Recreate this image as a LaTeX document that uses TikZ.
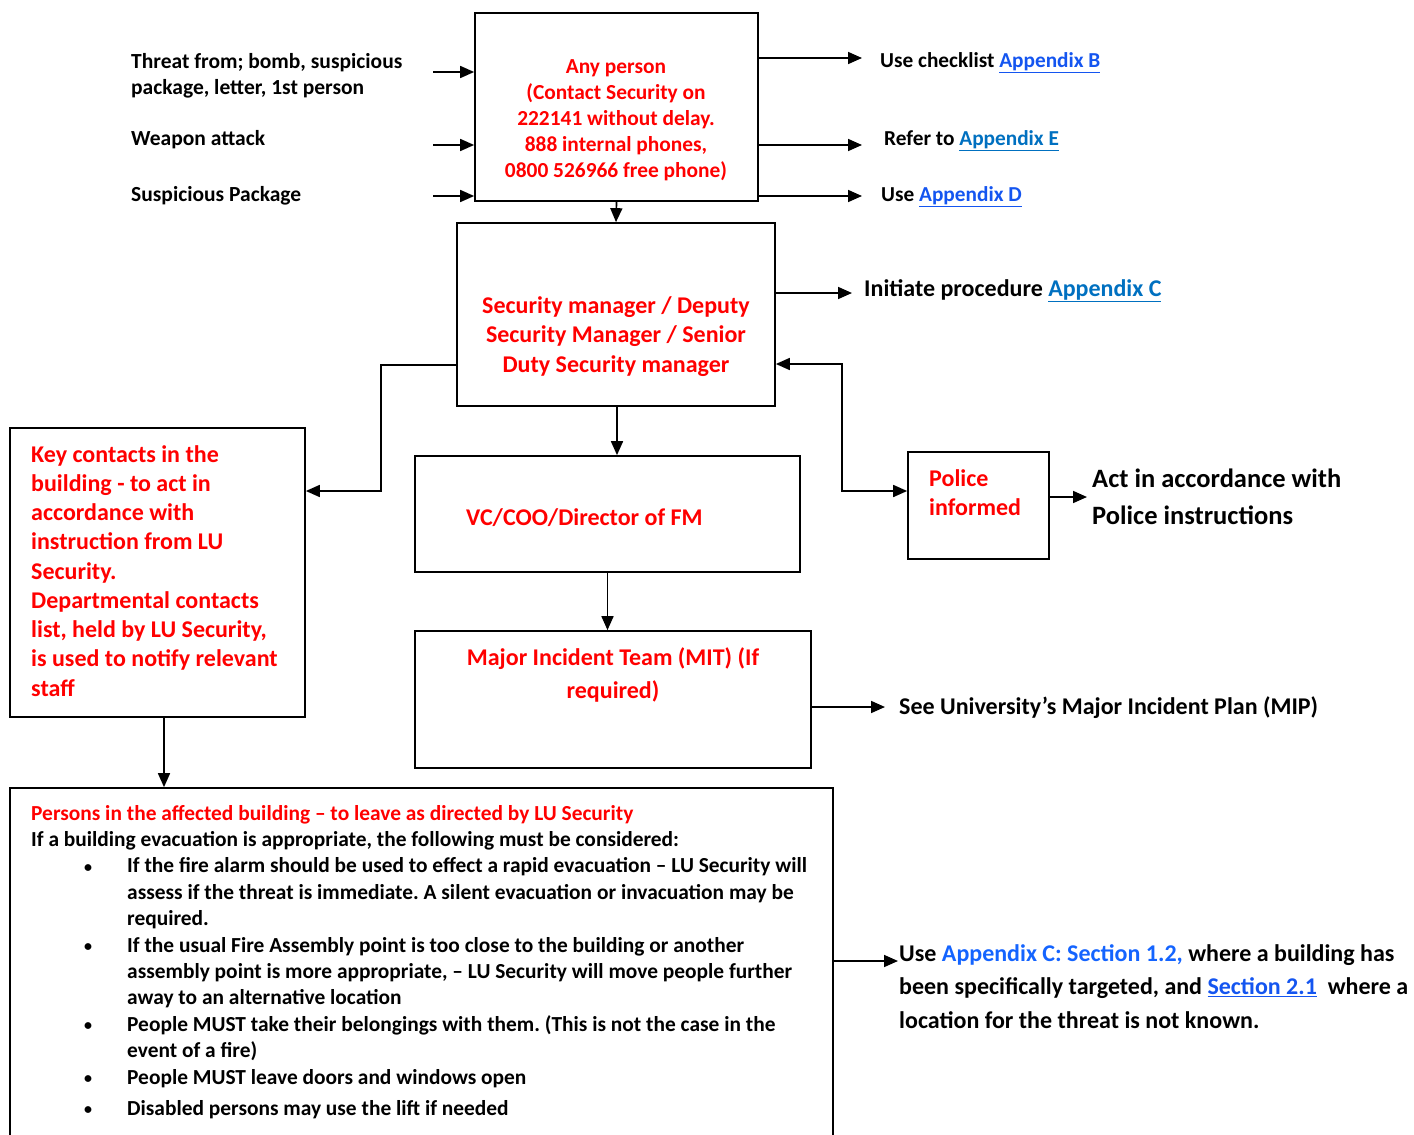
\documentclass[tikz,border=0pt]{standalone}
\usepackage{fontspec}
\setmainfont{Carlito}
\usetikzlibrary{arrows.meta}
\frenchspacing
\definecolor{txtred}{RGB}{255,0,0}
\definecolor{lnkA}{RGB}{20,85,240}
\definecolor{lnkE}{RGB}{0,112,192}
\definecolor{lnkC}{RGB}{20,100,255}
\newcommand\fsz[2]{\fontsize{#1}{#2}\selectfont}
\newcommand\lnk[2]{\textcolor{#1}{\underline{#2}}}
\newcommand\blt{\hspace*{53pt}\makebox[43pt][l]{\raisebox{0.5pt}{\fontsize{16}{16}\selectfont\textbullet}}}
\newcommand\ind{\hspace*{96pt}}
\begin{document}
\begin{tikzpicture}[x=1pt,y=-1pt,
  boxnode/.style={draw, line width=1.7pt, inner sep=0pt},
  conn/.style={line width=1.7pt, -{Triangle[length=14pt,width=12pt]}},
  both/.style={line width=1.7pt, {Triangle[length=14pt,width=12pt]}-{Triangle[length=14pt,width=12pt]}},
  lbl/.style={inner sep=0pt}]
\useasboundingbox (0,0) rectangle (1414,1135);

% boxes
\node[boxnode, minimum width=283pt, minimum height=188pt] (any) at (616.5,107) {};
\node[boxnode, minimum width=318pt, minimum height=183pt] (sec) at (616,314.5) {};
\node[boxnode, minimum width=295pt, minimum height=289pt] (key) at (157.5,572.5) {};
\node[boxnode, minimum width=385pt, minimum height=116pt] (vc) at (607.5,514) {};
\node[boxnode, minimum width=141pt, minimum height=107pt] (police) at (978.5,505.5) {};
\node[boxnode, minimum width=396pt, minimum height=137pt] (mit) at (613,699.5) {};
\node[boxnode, minimum width=823pt, minimum height=357pt] (evac) at (421.5,966.5) {};

% texts
\node[lbl, anchor=base west, align=left, font={\bfseries\fsz{21.5}{26}}] (tThreat) at (131,94) {Threat from; bomb, suspicious\\package, letter, 1st person};
\node[lbl, anchor=base west, font={\bfseries\fsz{21.5}{26}}] (tWeapon) at (131,145.5) {Weapon attack};
\node[lbl, anchor=base west, font={\bfseries\fsz{21.5}{26}}] (tSusp) at (131,201.5) {Suspicious Package};

\node[lbl, anchor=base, align=center, text=txtred, font={\bfseries\fsz{21.4}{26}}] (tAny) at (616,177.5) {Any person\\(Contact Security on\\222141 without delay.\\888 internal phones,\\0800 526966 free phone)};

\node[lbl, anchor=base west, font={\bfseries\fsz{21.3}{26}}] (tB) at (880,67.5) {Use checklist \lnk{lnkA}{Appendix B}};
\node[lbl, anchor=base west, font={\bfseries\fsz{21.3}{26}}] (tE) at (884,145.5) {Refer to \lnk{lnkE}{Appendix E}};
\node[lbl, anchor=base west, font={\bfseries\fsz{21.3}{26}}] (tD) at (881,201.5) {Use \lnk{lnkA}{Appendix D}};
\node[lbl, anchor=base west, font={\bfseries\fsz{24}{28}}] (tC) at (864,296) {Initiate procedure \lnk{lnkE}{Appendix C}};

\node[lbl, anchor=base, align=center, text=txtred, font={\bfseries\fsz{24}{29.3}}] (tSec) at (616,372) {Security manager / Deputy\\Security Manager / Senior\\Duty Security manager};

\node[lbl, anchor=base west, align=left, text=txtred, font={\bfseries\fsz{24}{29.25}}] (tKey) at (31,696) {Key contacts in the\\building - to act in\\accordance with\\instruction from LU\\Security.\\Departmental contacts\\list, held by LU Security,\\is used to notify relevant\\staff};

\node[lbl, anchor=base west, text=txtred, font={\bfseries\fsz{24}{28}}] (tVC) at (466,525) {VC/COO/Director of FM};
\node[lbl, anchor=base west, align=left, text=txtred, font={\bfseries\fsz{24}{29}}] (tPol) at (929,515) {Police\\informed};
\node[lbl, anchor=base west, align=left, font={\bfseries\fsz{26.5}{37}}] (tAct) at (1092,524) {Act in accordance with\\Police instructions};
\node[lbl, anchor=base, align=center, text=txtred, font={\bfseries\fsz{24}{33}}] (tMIT) at (613,698) {Major Incident Team (MIT) (If\\required)};
\node[lbl, anchor=base west, font={\bfseries\fsz{24}{28}}] (tMIP) at (899,714) {See University’s Major Incident Plan (MIP)};

\node[lbl, anchor=base west, align=left, font={\bfseries\fsz{24}{33.5}}] (tUse) at (899,1028) {Use \textcolor{lnkC}{Appendix C: Section 1.2,} where a building has\\been specifically targeted, and \lnk{lnkA}{Section 2.1}\ \ where a\\location for the threat is not known.};

\node[lbl, anchor=base west, align=left, font={\bfseries\fsz{21.4}{26.4}}] (tEvac) at (31,1115) {\textcolor{txtred}{Persons in the affected building – to leave as directed by LU Security}\\
If a building evacuation is appropriate, the following must be considered:\\
\blt If the fire alarm should be used to effect a rapid evacuation – LU Security will\\
\ind assess if the threat is immediate. A silent evacuation or invacuation may be\\
\ind required.\\
\blt If the usual Fire Assembly point is too close to the building or another\\
\ind assembly point is more appropriate, – LU Security will move people further\\
\ind away to an alternative location\\
\blt People MUST take their belongings with them. (This is not the case in the\\
\ind event of a fire)\\
\blt People MUST leave doors and windows open\\[4.5pt]
\blt Disabled persons may use the lift if needed};

% arrow end coordinates
\coordinate (inA) at (433,72);
\coordinate (inB) at (433,145);
\coordinate (inC) at (433,196);
\coordinate (oB) at (862,58);
\coordinate (oE) at (862,145);
\coordinate (oD) at (862,196);
\coordinate (oC) at (852,293);
\coordinate (kb) at (381,491);
\coordinate (pb) at (842,491);
\coordinate (oAct) at (1087,497);
\coordinate (oMIP) at (885,707);
\coordinate (oUse) at (898,961);

% connectors
\draw[conn] (inA) -- (inA -| any.west);
\draw[conn] (inB) -- (inB -| any.west);
\draw[conn] (inC) -- (inC -| any.west);
\draw[conn] (oB -| any.east) -- (oB);
\draw[conn] (oE -| any.east) -- (oE);
\draw[conn] (oD -| any.east) -- (oD);
\draw[conn] (any.south) -- (sec.north);
\draw[conn] (oC -| sec.east) -- (oC);
\draw[conn] ([yshift=-50.5pt]sec.west) -| (kb) -- (kb -| key.east);
\draw[conn] ([xshift=1pt]sec.south) -- ([xshift=1pt]sec.south |- vc.north);
\draw[both] ([yshift=-49.5pt]sec.east) -| (pb) -- (pb -| police.west);
\draw[conn] (oAct -| police.east) -- (oAct);
\draw[conn] (vc.south) -- (vc.south |- mit.north);
\draw[conn] (oMIP -| mit.east) -- (oMIP);
\draw[conn] ([xshift=6.5pt]key.south) -- ([xshift=6.5pt]key.south |- evac.north);
\draw[conn] (oUse -| evac.east) -- (oUse);
\end{tikzpicture}
\end{document}
